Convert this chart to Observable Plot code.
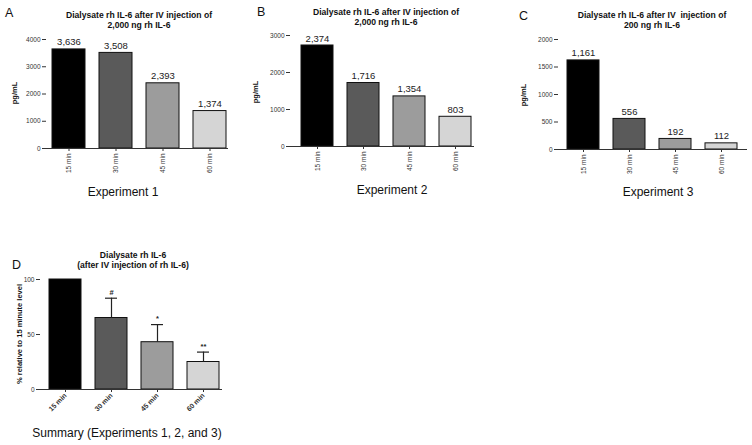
<!DOCTYPE html>
<html>
<head>
<meta charset="utf-8">
<script src="https://cdn.jsdelivr.net/npm/d3@7"></script>
<script src="https://cdn.jsdelivr.net/npm/@observablehq/plot@0.6"></script>
<style>
  html, body { margin: 0; padding: 0; background: #fff; }
  #root { position: relative; width: 752px; height: 445px; overflow: hidden; background: #fff;
          font-family: Arial, "Liberation Sans", sans-serif; color: #111; }
  .abs { position: absolute; white-space: nowrap; line-height: 1; }
  .title { font-weight: bold; font-size: 8.6px; text-align: center; transform: translateX(-50%); line-height: 10px; }
  .letter { font-size: 12.5px; }
  .xcap { font-size: 12px; transform: translateX(-50%); }
  .ylab { font-weight: bold; font-size: 7.5px; transform: translate(-50%, -50%) rotate(-90deg); }
  svg { position: absolute; }
</style>
</head>
<body>
<div id="root"></div>
<script>
// ---- data ----
const times = ["15 min", "30 min", "45 min", "60 min"];
const barColors = ["#000000", "#5a5a5a", "#9c9c9c", "#d5d5d5"];

const exp1Values = [3636, 3508, 2393, 1374];
const exp1Labels = ["3,636", "3,508", "2,393", "1,374"];
const exp1Ticks = [0, 1000, 2000, 3000, 4000];

const exp2Values = [2730, 1716, 1354, 803];
const exp2Labels = ["2,374", "1,716", "1,354", "803"];
const exp2Ticks = [0, 1000, 2000, 3000];

const exp3Values = [1620, 556, 192, 112];
const exp3Labels = ["1,161", "556", "192", "112"];
const exp3Ticks = [0, 500, 1000, 1500, 2000];

const summaryValues = [100, 65, 43, 25];
const summaryErrUpper = [null, 83, 59, 34];
const summarySig = ["", "#", "*", "**"];
const summaryTicks = [0, 50, 100];

const root = document.getElementById("root");

function addText(cls, text, x, y) {
  const d = document.createElement("div");
  d.className = "abs " + cls;
  d.style.left = x + "px";
  d.style.top = y + "px";
  d.innerHTML = text;
  root.appendChild(d);
  return d;
}

function barPanel(o) {
  const data = times.map((t, i) => ({t, v: o.values[i], label: o.labels ? o.labels[i] : "", color: barColors[i]}));
  const marks = [
    Plot.barY(data, {x: "t", y: "v", fill: "color", stroke: "#111", strokeWidth: 1}),
    Plot.ruleY([0], {stroke: "#333", strokeWidth: 1}),
    Plot.axisY({ticks: o.ticks, tickSize: 4, tickPadding: 2, fontSize: o.yFont || 6.5, line: true, label: null,
                tickFormat: d => String(d), stroke: "#333", fill: "#333"}),
    Plot.axisX({tickSize: 3, tickPadding: 2, tickRotate: o.rotate, fontSize: o.xFont || 6.5, label: null,
                fontWeight: o.xBold ? "bold" : "normal", stroke: "#333", fill: "#333"})
  ];
  if (o.labels) {
    marks.push(Plot.text(data, {x: "t", y: "v", text: "label", dy: -7, fontSize: 9.5, fill: "#222"}));
  }
  if (o.extra) marks.push(...o.extra);
  const svg = Plot.plot({
    width: o.width, height: o.height,
    marginLeft: o.ml, marginRight: o.mr, marginTop: o.mt, marginBottom: o.mb,
    style: {fontFamily: "Arial, 'Liberation Sans', sans-serif", background: "transparent", overflow: "visible"},
    x: {type: "band", domain: times, range: o.xRange, paddingInner: 0.3, paddingOuter: 0, label: null},
    y: {domain: o.yDomain, label: null},
    color: {type: "identity"},
    marks
  });
  svg.style.left = o.left + "px";
  svg.style.top = o.top + "px";
  root.appendChild(svg);
}

// Panel A
barPanel({left: 0, top: 0, width: 240, height: 200, ml: 46, mr: 12, mt: 39, mb: 52,
  xRange: [52, 226], yDomain: [0, 4000], ticks: exp1Ticks, values: exp1Values, labels: exp1Labels, rotate: -90});
addText("letter", "A", 5, 7);
addText("title", "Dialysate rh IL-6 after IV injection of<br>2,000 ng rh IL-6", 139, 10);
addText("ylab", "pg/mL", 15, 93);
addText("xcap", "Experiment 1", 123, 186);

// Panel B
barPanel({left: 240, top: 0, width: 245, height: 200, ml: 50, mr: 11, mt: 35, mb: 54,
  xRange: [60, 232], yDomain: [0, 3000], ticks: exp2Ticks, values: exp2Values, labels: exp2Labels, rotate: -90});
addText("letter", "B", 257, 6);
addText("title", "Dialysate rh IL-6 after IV injection of<br>2,000 ng rh IL-6", 386, 7);
addText("ylab", "pg/mL", 256, 92);
addText("xcap", "Experiment 2", 392, 184);

// Panel C
barPanel({left: 490, top: 0, width: 262, height: 200, ml: 68, mr: 5, mt: 39, mb: 51,
  xRange: [76, 248], yDomain: [0, 2000], ticks: exp3Ticks, values: exp3Values, labels: exp3Labels, rotate: -90});
addText("letter", "C", 519, 10);
addText("title", "Dialysate rh IL-6 after IV &nbsp;injection of<br>200 ng rh IL-6", 652, 10);
addText("ylab", "pg/mL", 524, 95);
addText("xcap", "Experiment 3", 658, 186);

// Panel D
const sumData = times.map((t, i) => ({t, v: summaryValues[i], hi: summaryErrUpper[i], sig: summarySig[i]}))
  .filter(d => d.hi != null);
barPanel({left: 0, top: 250, width: 240, height: 195, ml: 40, mr: 18, mt: 29, mb: 56,
  xRange: [48, 221], yDomain: [0, 100], ticks: summaryTicks, values: summaryValues, labels: null,
  rotate: -45, xFont: 7, xBold: true,
  extra: [
    Plot.ruleX(sumData, {x: "t", y1: "v", y2: "hi", stroke: "#222", strokeWidth: 1.2}),
    Plot.tickY(sumData, {x: "t", y: "hi", stroke: "#222", strokeWidth: 1.2, insetLeft: 10, insetRight: 10}),
    Plot.text(sumData, {x: "t", y: "hi", text: "sig", dy: -6, fontSize: 7.5, fontWeight: "bold", fill: "#222"})
  ]});
addText("letter", "D", 12, 259);
addText("title", "Dialysate rh IL-6<br>(after IV injection of rh IL-6)", 133, 250);
addText("ylab", "% relative to 15 minute level", 20, 334);
addText("xcap", "Summary (Experiments 1, 2, and 3)", 127, 427);
</script>
</body>
</html>
